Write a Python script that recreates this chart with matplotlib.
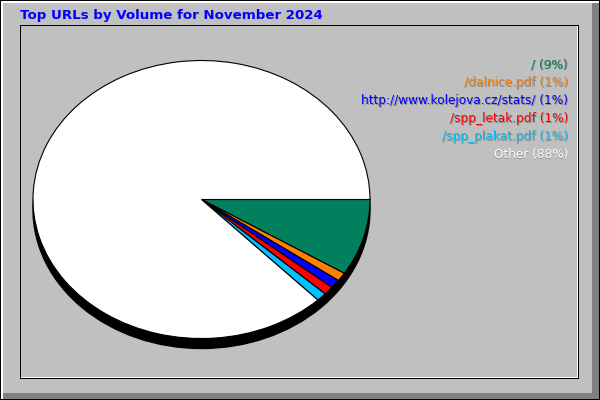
import matplotlib
matplotlib.use("Agg")
import matplotlib.pyplot as plt
from matplotlib.patches import Rectangle, Ellipse

# data
labels = ["/", "/dalnice.pdf", "http://www.kolejova.cz/stats/",
          "/spp_letak.pdf", "/spp_plakat.pdf", "Other"]
percents = [9, 1, 1, 1, 1, 88]
colors = ["#00805c", "#ff8000", "#0000ff", "#ff0000", "#00c0ff", "#ffffff"]
title = "Top URLs by Volume for November 2024"

W, H = 600, 400
GRAY = "#c0c0c0"
DARK = "#808080"

fig = plt.figure(figsize=(W / 100, H / 100), dpi=100, facecolor=GRAY)

# background axes in pixel coordinates
bg = fig.add_axes([0, 0, 1, 1])
bg.set_xlim(0, W)
bg.set_ylim(H, 0)
bg.axis("off")


def box(x, y, w, h, c):
    bg.add_patch(Rectangle((x, y), w, h, facecolor=c, edgecolor="none",
                           antialiased=False))


# outer frame
box(0, 0, W, H, GRAY)
box(W - 8, 0, 8, H, DARK)
box(0, H - 7, W, 7, DARK)
box(1, 1, W - 2, 2, "white")
box(1, 1, 2, H - 2, "white")
box(0, 0, W, 1, "black")
box(0, 0, 1, H, "black")
box(W - 1, 0, 1, H, "black")
box(0, H - 1, W, 1, "black")

# inner panel
box(20, 25, 559, 1, "black")
box(20, 25, 1, 354, "black")
box(578, 25, 1, 354, "black")
box(20, 378, 559, 1, "black")
box(577, 26, 1, 352, "white")
box(21, 377, 557, 1, "white")

bg.text(20, 19, title, color="#0000ff", fontsize=9.6, fontweight="bold",
        ha="left", va="baseline")

# legend, right aligned with 1px shadow
for i, (lab, p, c) in enumerate(zip(labels, percents, colors)):
    y = 68 + 18 * i
    s = f"{lab} ({p}%)"
    bg.text(569, y + 1, s, color="#8c8c8c", fontsize=8.7, ha="right",
            va="baseline")
    bg.text(568, y, s, color=c, fontsize=8.7, ha="right", va="baseline")

# pie as ellipse: axes box spans the ellipse
cx, cy, rx, ry = 201.5, 199.5, 168.5, 139
ax = fig.add_axes([(cx - rx) / W, 1 - (cy + ry) / H, 2 * rx / W, 2 * ry / H])
depth = 10 / ry
ax.add_patch(Ellipse((0, -depth), 2, 2, facecolor="black", edgecolor="black",
                     clip_on=False, zorder=0))
wedges, _ = ax.pie(percents, colors=colors, startangle=0, counterclock=False,
                   wedgeprops=dict(edgecolor="black", linewidth=0.8))
for w in wedges:
    w.set_zorder(2)
    w.set_clip_on(False)
ax.set_aspect("auto")
ax.set_xlim(-1, 1)
ax.set_ylim(-1, 1)
ax.axis("off")

fig.savefig("out.png", dpi=100, facecolor=GRAY)
